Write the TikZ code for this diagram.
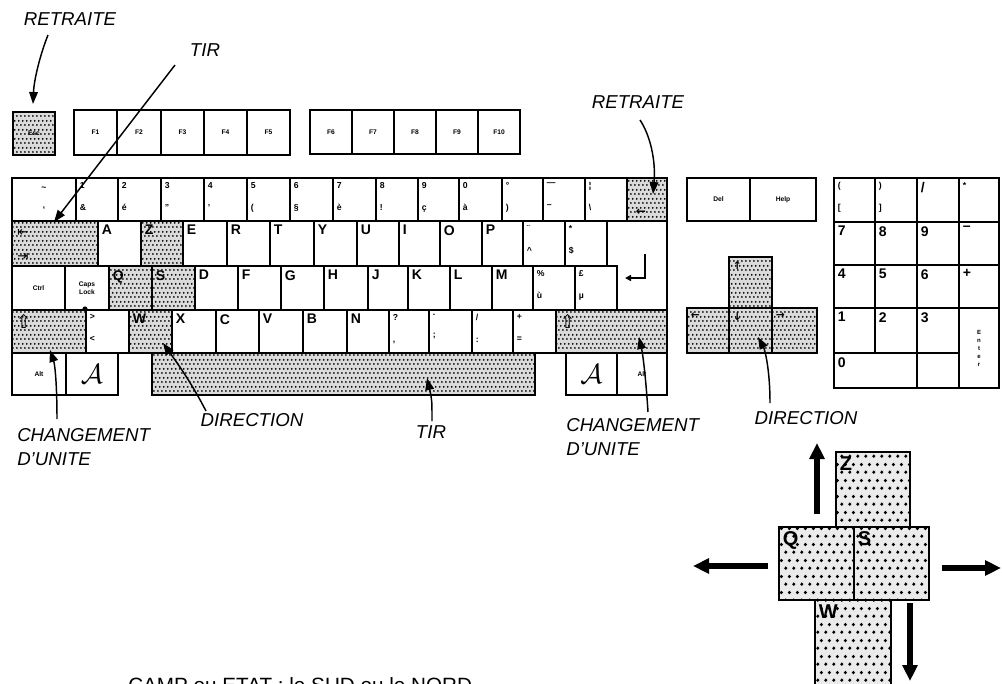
\documentclass[tikz,border=0pt]{standalone}
\usepackage{fontspec}
\setmainfont{Liberation Sans}
\newfontfamily\symfont{DejaVu Sans}
\usetikzlibrary{patterns.meta,arrows.meta,calc}
\tikzdeclarepattern{
  name=kdots,
  type=uncolored,
  bounding box={(0pt,0pt) and (3.2pt,6.4pt)},
  tile size={(3.2pt,6.4pt)},
  code={\fill (0.8pt,1.6pt) circle (0.8pt); \fill (2.4pt,4.8pt) circle (0.8pt);}
}
\tikzdeclarepattern{
  name=bdots,
  type=uncolored,
  bounding box={(0pt,0pt) and (6pt,12pt)},
  tile size={(6pt,12pt)},
  code={\fill (1.5pt,3pt) circle (1.4pt); \fill (4.5pt,9pt) circle (1.4pt);}
}
\newcommand\kbL{\bfseries\fontsize{10.5}{11}\selectfont}
\newcommand\kbS{\bfseries\fontsize{6.5}{16.5}\selectfont}
\newcommand\kbT{\bfseries\fontsize{5}{6}\selectfont}
\newcommand\kbB{\bfseries\fontsize{15}{15}\selectfont}
\newcommand\kbkey[8][]{%
  \pgfmathsetmacro\kbw{(#4-#2)*0.75}%
  \pgfmathsetmacro\kbh{(#5-#3)*0.75}%
  \node[key,minimum width=\kbw pt,minimum height=\kbh pt,#1] (#6) at ({(#2+#4)/2},{(#3+#5)/2}) {};%
  \node[klab,font=#7,anchor=north west] (#6-t) at ([xshift=2.2pt,yshift=-2.5pt]#6.north west) {#8};}
\newcommand\kbkeyc[8][]{%
  \pgfmathsetmacro\kbw{(#4-#2)*0.75}%
  \pgfmathsetmacro\kbh{(#5-#3)*0.75}%
  \node[key,minimum width=\kbw pt,minimum height=\kbh pt,#1] (#6) at ({(#2+#4)/2},{(#3+#5)/2}) {};%
  \node[klab,font=#7,align=center] (#6-t) at (#6.center) {#8};}
\begin{document}
\begin{tikzpicture}[x=0.75pt,y=-0.75pt,
  key/.style={draw,line width=1.1pt,inner sep=0pt,outer sep=0pt},
  shaded/.style={preaction={fill=black!14},pattern={kdots},pattern color=black},
  bigshaded/.style={preaction={fill=black!8},pattern={bdots},pattern color=black,line width=1.6pt},
  klab/.style={inner sep=0.5pt,align=left},
  lab/.style={font=\itshape\fontsize{14}{18.5}\selectfont,inner sep=0pt,align=left},
  labarrow/.style={line width=1.1pt,-{Triangle[length=9pt,width=6.5pt]}},
  bigarrow/.style={line width=4pt,-{Triangle[length=12pt,width=11pt]}}
]
\useasboundingbox (0,0) rectangle (1002,683);
\fill[white] (0,0) rectangle (1002,683);

% Esc and function keys
\kbkeyc[shaded]{13}{112}{55}{155}{esc}{\kbT}{Esc}
\kbkeyc{74}{110}{117}{155}{f1}{\kbT}{F1}
\kbkeyc{117}{110}{161}{155}{f2}{\kbT}{F2}
\kbkeyc{161}{110}{204}{155}{f3}{\kbT}{F3}
\kbkeyc{204}{110}{247}{155}{f4}{\kbT}{F4}
\kbkeyc{247}{110}{290}{155}{f5}{\kbT}{F5}
\kbkeyc{310}{110}{352}{154}{f6}{\kbT}{F6}
\kbkeyc{352}{110}{394}{154}{f7}{\kbT}{F7}
\kbkeyc{394}{110}{436}{154}{f8}{\kbT}{F8}
\kbkeyc{436}{110}{478}{154}{f9}{\kbT}{F9}
\kbkeyc{478}{110}{520}{154}{f10}{\kbT}{F10}

% number row
\kbkeyc{12}{178}{76}{221}{ktil}{\kbS}{\textasciitilde\\`}
\kbkey{76}{178}{118}{221}{k1}{\kbS}{1\\\&}
\kbkey{118}{178}{161}{221}{k2}{\kbS}{2\\é}
\kbkey{161}{178}{204}{221}{k3}{\kbS}{3\\"}
\kbkey{204}{178}{247}{221}{k4}{\kbS}{4\\'}
\kbkey{247}{178}{290}{221}{k5}{\kbS}{5\\(}
\kbkey{290}{178}{333}{221}{k6}{\kbS}{6\\§}
\kbkey{333}{178}{376}{221}{k7}{\kbS}{7\\è}
\kbkey{376}{178}{418}{221}{k8}{\kbS}{8\\!}
\kbkey{418}{178}{459}{221}{k9}{\kbS}{9\\ç}
\kbkey{459}{178}{502}{221}{k0}{\kbS}{0\\à}
\kbkey{502}{178}{543}{221}{kdeg}{\kbS}{°\\)}
\kbkey{543}{178}{585}{221}{kmin}{\kbS}{—\\–}
\kbkey{585}{178}{627}{221}{kbar}{\kbS}{¦\\\textbackslash}
\kbkey[shaded]{627}{178}{667}{221}{kbs}{\kbS}{}
\node[font=\symfont\bfseries\fontsize{9}{9}\selectfont,inner sep=0] (bssym) at (641,212) {←};

% row 2
\kbkey[shaded]{12}{221}{98}{266}{ktab}{\kbS}{}
\node[font=\symfont\fontsize{10}{10}\selectfont,inner sep=0,anchor=west] (tab1) at (17,233) {⇤};
\node[font=\symfont\fontsize{10}{10}\selectfont,inner sep=0,anchor=west] (tab2) at (17,257) {⇥};
\kbkey{98}{221}{141}{266}{kA}{\kbL}{A}
\kbkey[shaded]{141}{221}{183}{266}{kZ}{\kbL}{Z}
\kbkey{183}{221}{227}{266}{kE}{\kbL}{E}
\kbkey{227}{221}{270}{266}{kR}{\kbL}{R}
\kbkey{270}{221}{314}{266}{kT}{\kbL}{T}
\kbkey{314}{221}{357}{266}{kY}{\kbL}{Y}
\kbkey{357}{221}{399}{266}{kU}{\kbL}{U}
\kbkey{399}{221}{440}{266}{kI}{\kbL}{I}
\kbkey{440}{221}{482}{266}{kO}{\kbL}{O}
\kbkey{482}{221}{523}{266}{kP}{\kbL}{P}
\kbkey{523}{221}{565}{266}{kuml}{\kbS}{¨\\\textasciicircum}
\kbkey{565}{221}{607}{266}{kdol}{\kbS}{*\\\$}
\draw[key] (607,221) -- (667,221) -- (667,310) -- (617,310) -- (617,266) -- (607,266) -- cycle;
\coordinate (entc) at (642,266);
\draw[line width=1.2pt,-{Triangle[length=4.5pt,width=4.5pt]}] (645,254) -- (645,278) -- (625,278);

% row 3
\kbkeyc{12}{266}{65}{310}{kctrl}{\kbT}{Ctrl}
\kbkeyc{65}{266}{109}{310}{kcaps}{\kbT}{Caps\\Lock}
\fill (85,309) circle (2.6);
\kbkey[shaded]{109}{266}{152}{310}{kQ}{\kbL}{Q}
\kbkey[shaded]{152}{266}{195}{310}{kS}{\kbL}{S}
\kbkey{195}{266}{238}{310}{kD}{\kbL}{D}
\kbkey{238}{266}{281}{310}{kF}{\kbL}{F}
\kbkey{281}{266}{324}{310}{kG}{\kbL}{G}
\kbkey{324}{266}{368}{310}{kH}{\kbL}{H}
\kbkey{368}{266}{408}{310}{kJ}{\kbL}{J}
\kbkey{408}{266}{450}{310}{kK}{\kbL}{K}
\kbkey{450}{266}{492}{310}{kLL}{\kbL}{L}
\kbkey{492}{266}{533}{310}{kM}{\kbL}{M}
\kbkey{533}{266}{575}{310}{kpct}{\kbS}{\%\\ù}
\kbkey{575}{266}{617}{310}{kpnd}{\kbS}{£\\µ}

% row 4
\kbkey[shaded]{12}{310}{86}{353}{klsh}{\symfont\fontsize{14}{14}\selectfont}{⇧}
\kbkey{86}{310}{129}{353}{klt}{\kbS}{>\\<}
\kbkey[shaded]{129}{310}{172}{353}{kW}{\kbL}{W}
\kbkey{172}{310}{216}{353}{kX}{\kbL}{X}
\kbkey{216}{310}{259}{353}{kC}{\kbL}{C}
\kbkey{259}{310}{303}{353}{kV}{\kbL}{V}
\kbkey{303}{310}{347}{353}{kB}{\kbL}{B}
\kbkey{347}{310}{389}{353}{kN}{\kbL}{N}
\kbkey{389}{310}{429}{353}{kque}{\kbS}{?\\,}
\kbkey{429}{310}{472}{353}{kdot}{\kbS}{.\\;}
\kbkey{472}{310}{513}{353}{ksl}{\kbS}{/\\:}
\kbkey{513}{310}{556}{353}{kpl}{\kbS}{+\\=}
\kbkey[shaded]{556}{310}{667}{353}{krsh}{\symfont\fontsize{14}{14}\selectfont}{⇧}

% row 5
\kbkeyc{12}{353}{66}{395}{kalt1}{\kbT}{Alt}
\kbkeyc{66}{353}{118}{395}{kami1}{\fontsize{20}{20}\selectfont}{$\mathcal{A}$}
\kbkey[shaded]{152}{353}{535}{395}{kspace}{\kbS}{}
\kbkeyc{566}{353}{617}{395}{kami2}{\fontsize{20}{20}\selectfont}{$\mathcal{A}$}
\kbkeyc{617}{353}{667}{395}{kalt2}{\kbT}{Alt}

% Del / Help
\kbkeyc{687}{178}{750}{221}{kdel}{\kbT}{Del}
\kbkeyc{750}{178}{816}{221}{khelp}{\kbT}{Help}

% cursor keys
\kbkey[shaded]{729}{257}{772}{308}{kup}{\symfont\bfseries\fontsize{8}{8}\selectfont}{↑}
\kbkey[shaded]{687}{308}{729}{353}{kleft}{\symfont\bfseries\fontsize{8}{8}\selectfont}{←}
\kbkey[shaded]{729}{308}{772}{353}{kdown}{\symfont\bfseries\fontsize{8}{8}\selectfont}{↓}
\kbkey[shaded]{772}{308}{817}{353}{kright}{\symfont\bfseries\fontsize{8}{8}\selectfont}{→}

% numeric pad
\kbkey{834}{178}{875}{222}{np1}{\kbS}{(\\{[}}
\kbkey{875}{178}{917}{222}{np2}{\kbS}{)\\{]}}
\kbkey{917}{178}{959}{222}{np3}{\kbL}{/}
\kbkey{959}{178}{999}{222}{np4}{\kbS}{*}
\kbkey{834}{222}{875}{265}{np7}{\kbL}{7}
\kbkey{875}{222}{917}{265}{np8}{\kbL}{8}
\kbkey{917}{222}{959}{265}{np9}{\kbL}{9}
\kbkey{959}{222}{999}{265}{npmin}{\kbL}{–}
\kbkey{834}{265}{875}{308}{np4b}{\kbL}{4}
\kbkey{875}{265}{917}{308}{np5}{\kbL}{5}
\kbkey{917}{265}{959}{308}{np6}{\kbL}{6}
\kbkey{959}{265}{999}{308}{nppl}{\kbL}{+}
\kbkey{834}{308}{875}{353}{np1b}{\kbL}{1}
\kbkey{875}{308}{917}{353}{np2b}{\kbL}{2}
\kbkey{917}{308}{959}{353}{np3b}{\kbL}{3}
\kbkeyc{959}{308}{999}{388}{npent}{\bfseries\fontsize{4.5}{6}\selectfont}{E\\n\\t\\e\\r}
\kbkey{834}{353}{917}{388}{np0}{\kbL}{0}
\kbkey{917}{353}{959}{388}{npdot}{\kbL}{}

% big cluster
\kbkey[bigshaded]{836}{452}{910}{527}{bZ}{\kbB}{Z}
\kbkey[bigshaded]{779}{527}{854}{600}{bQ}{\kbB}{Q}
\kbkey[bigshaded]{854}{527}{929}{600}{bS}{\kbB}{S}
\kbkey[bigshaded]{815}{600}{891}{692}{bW}{\kbB}{W}
\coordinate (au1) at (817,514); \coordinate (au2) at (817,443);
\coordinate (al1) at (768,566); \coordinate (al2) at (693,566);
\coordinate (ar1) at (942,568); \coordinate (ar2) at (1001,568);
\coordinate (ad1) at (910,603); \coordinate (ad2) at (910,681);
\draw[bigarrow] (au1) -- (au2);
\draw[bigarrow] (al1) -- (al2);
\draw[bigarrow] (ar1) -- (ar2);
\draw[bigarrow] (ad1) -- (ad2);

% labels
\node[lab] (retL) at (70,19) {RETRAITE};
\node[lab] (tirT) at (205,50) {TIR};
\node[lab] (retR) at (638,102) {RETRAITE};
\node[lab,anchor=north west] (chgL) at (17,428) {CHANGEMENT\\D'UNITE};
\node[lab] (dirL) at (252,420) {DIRECTION};
\node[lab] (tirB) at (431,432) {TIR};
\node[lab,anchor=north west] (chgR) at (566,418) {CHANGEMENT\\D'UNITE};
\node[lab] (dirR) at (806,418) {DIRECTION};
\node[font=\fontsize{15.5}{16}\selectfont,anchor=base west,inner sep=0] (camp) at (128,692) {CAMP ou ETAT : le SUD ou le NORD};

% connector ends
\coordinate (c1a) at (48,35);   \coordinate (c1b) at (33,104);
\coordinate (c2a) at (175,65);  \coordinate (c2b) at (54,222);
\coordinate (c3a) at (640,120); \coordinate (c3b) at (653,194);
\coordinate (c4a) at (57,419);  \coordinate (c4b) at (50,350);
\coordinate (c5a) at (206,411); \coordinate (c5b) at (163,343);
\coordinate (c6a) at (432,421); \coordinate (c6b) at (427,378);
\coordinate (c7a) at (648,412); \coordinate (c7b) at (639,337);
\coordinate (c8a) at (770,403); \coordinate (c8b) at (758,337);
\draw[labarrow] (c1a) .. controls (40,55) and (34,80) .. (c1b);
\draw[labarrow] (c2a) -- (c2b);
\draw[labarrow] (c3a) .. controls (650,135) and (656,160) .. (c3b);
\draw[labarrow] (c4a) .. controls (57,385) and (55,365) .. (c4b);
\draw[labarrow] (c5a) .. controls (190,380) and (175,360) .. (c5b);
\draw[labarrow] (c6a) .. controls (432,400) .. (c6b);
\draw[labarrow] (c7a) .. controls (646,380) and (643,355) .. (c7b);
\draw[labarrow] (c8a) .. controls (770,370) and (765,350) .. (c8b);
\end{tikzpicture}
\end{document}
